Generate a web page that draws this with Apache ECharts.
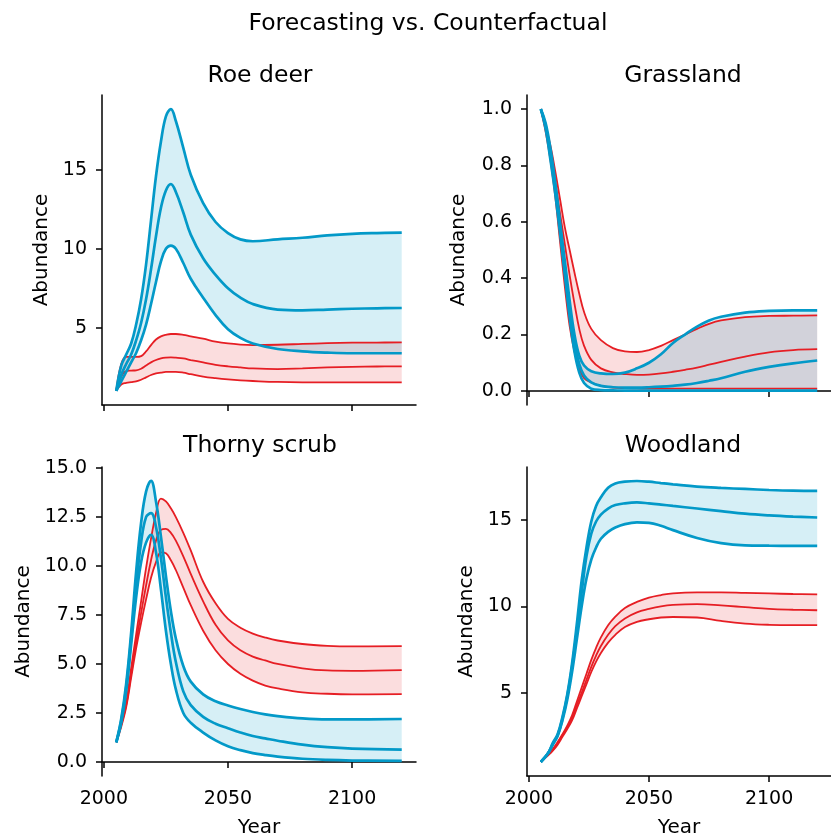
<!DOCTYPE html>
<html><head><meta charset="utf-8">
<script src="https://cdn.jsdelivr.net/npm/echarts@6/dist/echarts.min.js"></script>
<style>html,body{margin:0;padding:0;background:#fff}#c{width:831px;height:839px}</style>
</head><body><div id="c"></div><script>
// ---------- Data ----------
const panelTitles = ['Roe deer', 'Grassland', 'Thorny scrub', 'Woodland'];
const suptitle = 'Forecasting vs. Counterfactual';
const xTicks = [2000, 2050, 2100];

// Roe deer
const roeYears = [2005,2007,2009,2011,2013,2015,2017,2019,2021,2023,2025,2027,2029,2032,2035,2040,2045,2050,2055,2060,2070,2080,2090,2100,2110,2120];
const roeBlueHigh = [1.0,2.6,3.3,4.0,5.2,6.8,9.0,11.8,14.6,16.8,18.4,18.85,18.1,16.4,14.7,12.9,11.7,11.0,10.6,10.48,10.6,10.7,10.85,10.95,11.0,11.03];
const roeBlueMid  = [1.0,2.0,2.7,3.3,4.2,5.3,6.8,8.7,10.8,12.6,13.7,14.1,13.6,12.3,10.9,9.4,8.35,7.5,6.9,6.5,6.15,6.1,6.15,6.2,6.23,6.25];
const roeBlueLow  = [1.0,1.6,2.2,2.8,3.4,4.2,5.2,6.5,7.9,9.2,10.0,10.2,10.0,9.1,8.1,6.9,5.8,4.9,4.35,4.0,3.65,3.5,3.42,3.38,3.38,3.38];
const roeRedHigh  = [1.0,2.7,3.15,3.15,3.15,3.2,3.5,3.9,4.25,4.45,4.55,4.6,4.6,4.55,4.45,4.3,4.12,4.0,3.93,3.9,3.92,3.97,4.02,4.05,4.06,4.07];
const roeRedMid   = [1.0,1.9,2.25,2.28,2.3,2.4,2.6,2.8,2.95,3.05,3.1,3.12,3.1,3.05,2.95,2.8,2.65,2.55,2.48,2.42,2.38,2.42,2.48,2.52,2.54,2.55];
const roeRedLow   = [1.0,1.4,1.5,1.55,1.6,1.7,1.85,2.0,2.1,2.15,2.2,2.2,2.2,2.15,2.05,1.9,1.8,1.72,1.66,1.62,1.56,1.54,1.54,1.54,1.54,1.54];
const roeYTicks = [5, 10, 15];

// Grassland
const grassYears = [2005,2007,2009,2011,2013,2015,2017,2019,2021,2023,2026,2030,2035,2040,2045,2050,2055,2060,2065,2070,2075,2080,2090,2100,2110,2120];
const grassBlueHigh = [1.0,0.95,0.86,0.74,0.6,0.46,0.32,0.2,0.125,0.09,0.07,0.062,0.06,0.065,0.08,0.1,0.13,0.17,0.2,0.228,0.25,0.263,0.278,0.284,0.286,0.286];
const grassBlueMid  = [1.0,0.94,0.84,0.72,0.58,0.43,0.29,0.17,0.095,0.055,0.03,0.018,0.013,0.012,0.012,0.013,0.015,0.018,0.022,0.028,0.036,0.045,0.068,0.085,0.098,0.108];
const grassBlueLow  = [1.0,0.93,0.82,0.7,0.56,0.41,0.26,0.14,0.065,0.028,0.008,0.003,0.002,0.001,0.001,0.001,0.001,0.001,0.001,0.001,0.001,0.001,0.001,0.001,0.001,0.001];
const grassRedHigh  = [1.0,0.94,0.87,0.78,0.68,0.58,0.5,0.42,0.345,0.28,0.22,0.18,0.152,0.14,0.138,0.145,0.16,0.18,0.2,0.22,0.238,0.25,0.262,0.266,0.267,0.268];
const grassRedMid   = [1.0,0.93,0.85,0.74,0.63,0.52,0.41,0.31,0.22,0.16,0.11,0.08,0.066,0.06,0.057,0.058,0.062,0.068,0.075,0.083,0.093,0.103,0.122,0.137,0.145,0.148];
const grassRedLow   = [1.0,0.92,0.82,0.69,0.53,0.37,0.23,0.14,0.08,0.045,0.03,0.018,0.012,0.01,0.009,0.008,0.008,0.008,0.008,0.008,0.008,0.008,0.008,0.008,0.008,0.008];
const grassYTicks = [0, 0.2, 0.4, 0.6, 0.8, 1.0];

// Thorny scrub
const scrubYears = [2005,2007,2009,2011,2013,2015,2017,2019,2021,2023,2025,2027,2029,2032,2035,2040,2045,2050,2055,2060,2065,2070,2080,2090,2100,2120];
const scrubBlueHigh = [1.0,2.2,4.0,6.6,9.7,12.2,13.8,14.35,13.3,11.5,9.5,7.7,6.3,4.9,4.1,3.45,3.1,2.88,2.7,2.55,2.43,2.34,2.22,2.17,2.17,2.19];
const scrubBlueMid  = [1.0,2.1,3.8,6.3,9.0,11.2,12.5,12.7,12.0,10.4,8.4,6.6,5.1,3.6,2.9,2.3,1.95,1.72,1.5,1.32,1.2,1.08,0.88,0.75,0.68,0.63];
const scrubBlueLow  = [1.0,2.0,3.6,6.0,8.4,10.2,11.2,11.6,10.7,8.8,6.7,5.0,3.7,2.5,2.0,1.5,1.1,0.8,0.6,0.45,0.35,0.27,0.16,0.1,0.07,0.05];
const scrubRedHigh  = [1.0,2.0,3.0,4.8,6.5,8.2,9.9,11.4,12.7,13.45,13.3,12.95,12.5,11.7,10.8,9.2,8.1,7.3,6.85,6.55,6.35,6.2,6.02,5.93,5.9,5.91];
const scrubRedMid   = [1.0,1.9,2.9,4.5,6.1,7.6,9.0,10.3,11.3,11.85,11.9,11.7,11.3,10.5,9.6,8.2,7.0,6.2,5.7,5.38,5.18,5.0,4.78,4.67,4.65,4.69];
const scrubRedLow   = [1.0,1.8,2.8,4.3,5.8,7.1,8.3,9.4,10.2,10.7,10.65,10.3,9.8,8.9,8.0,6.7,5.7,5.0,4.5,4.15,3.9,3.75,3.55,3.48,3.45,3.46];
const scrubYTicks = [0, 2.5, 5, 7.5, 10, 12.5, 15];

// Woodland
const woodYears = [2005,2008,2010,2012,2014,2016,2018,2020,2022,2024,2026,2028,2030,2033,2036,2040,2045,2050,2055,2060,2070,2080,2090,2100,2110,2120];
const woodBlueHigh = [1.0,1.5,2.1,2.6,3.6,4.9,6.7,9.0,11.5,13.4,14.9,15.8,16.3,16.85,17.1,17.2,17.24,17.2,17.12,17.05,16.92,16.84,16.78,16.72,16.68,16.67];
const woodBlueMid  = [1.0,1.5,2.05,2.55,3.5,4.8,6.5,8.6,10.8,12.9,14.2,14.9,15.3,15.65,15.85,15.95,16.0,15.95,15.88,15.8,15.65,15.5,15.35,15.25,15.18,15.13];
const woodBlueLow  = [1.0,1.5,2.0,2.5,3.4,4.6,6.2,8.1,10.0,11.6,12.7,13.4,13.9,14.3,14.55,14.75,14.85,14.82,14.65,14.4,13.95,13.65,13.52,13.5,13.49,13.49];
const woodRedHigh  = [1.0,1.42,1.75,2.15,2.6,3.1,3.7,4.5,5.3,6.1,6.9,7.6,8.2,8.9,9.4,9.9,10.25,10.5,10.65,10.75,10.8,10.8,10.77,10.74,10.71,10.69];
const woodRedMid   = [1.0,1.4,1.7,2.1,2.55,3.0,3.55,4.3,5.0,5.75,6.5,7.15,7.7,8.35,8.85,9.3,9.65,9.85,10.0,10.08,10.12,10.05,9.95,9.85,9.8,9.77];
const woodRedLow   = [1.0,1.38,1.65,2.0,2.45,2.9,3.4,4.1,4.8,5.5,6.2,6.8,7.3,7.9,8.35,8.8,9.1,9.25,9.35,9.38,9.35,9.15,9.0,8.93,8.91,8.91];
const woodYTicks = [5, 10, 15];

// ---------- Layout / style ----------
const BLUE = '#0399c8';
const RED = '#e61e24';
const FONT = 'DejaVu Sans';
const SM = 0.4;

const panels = [
  {years: roeYears, bh: roeBlueHigh, bm: roeBlueMid, bl: roeBlueLow, rh: roeRedHigh, rm: roeRedMid, rl: roeRedLow,
   yTicks: roeYTicks, ymin: 0.1, ymax: 19.75, dec: 0, grid: {left: 102, top: 95, width: 314, height: 310}, xLabels: false, nameGap: 50, tx: 260, ty: 76},
  {years: grassYears, bh: grassBlueHigh, bm: grassBlueMid, bl: grassBlueLow, rh: grassRedHigh, rm: grassRedMid, rl: grassRedLow,
   yTicks: grassYTicks, ymin: -0.05, ymax: 1.05, dec: 1, grid: {left: 527, top: 95, width: 314, height: 310}, xLabels: false, nameGap: 58, tx: 683, ty: 76},
  {years: scrubYears, bh: scrubBlueHigh, bm: scrubBlueMid, bl: scrubBlueLow, rh: scrubRedHigh, rm: scrubRedMid, rl: scrubRedLow,
   yTicks: scrubYTicks, ymin: -0.72, ymax: 15.06, dec: 1, grid: {left: 102, top: 467, width: 314, height: 310}, xLabels: true, nameGap: 68, tx: 260, ty: 446},
  {years: woodYears, bh: woodBlueHigh, bm: woodBlueMid, bl: woodBlueLow, rh: woodRedHigh, rm: woodRedMid, rl: woodRedLow,
   yTicks: woodYTicks, ymin: 0.19, ymax: 18.05, dec: 0, grid: {left: 527, top: 467, width: 314, height: 310}, xLabels: true, nameGap: 50, tx: 683, ty: 446}
];

const pairs = (xs, ys) => xs.map((x, i) => [x, ys[i]]);

// Band between two curves: custom series, polygon built from axis coordinates
function bandSeries(i, years, lo, hi, color, opacity) {
  return {
    type: 'custom', xAxisIndex: i, yAxisIndex: i, silent: true,
    data: years.map((x, k) => [x, lo[k], hi[k]]),
    encode: {x: 0, y: [1, 2]},
    renderItem: function (params, api) {
      if (params.dataIndex !== 0) return null;
      const n = years.length;
      const up = [], dn = [];
      for (let k = 0; k < n; k++) {
        up.push(api.coord([years[k], hi[k]]));
        dn.push(api.coord([years[k], lo[k]]));
      }
      // duplicate corner points so smoothing does not bulge at ends
      const pts = [up[0]].concat(up).concat([up[n - 1]]).concat([dn[n - 1]]).concat(dn.slice().reverse()).concat([dn[0]]);
      return {type: 'polygon', shape: {points: pts, smooth: SM}, style: {fill: color, opacity: opacity}};
    }
  };
}

const grids = [], xAxes = [], yAxes = [], series = [], titles = [];
titles.push({text: suptitle, left: 428, top: 24, textAlign: 'center', textVerticalAlign: 'middle', padding: 0,
  textStyle: {fontFamily: FONT, fontSize: 23.5, fontWeight: 'normal', color: '#000'}});

const axisLineStyle = {color: '#000', width: 1.5};

panels.forEach((p, i) => {
  grids.push(p.grid);
  titles.push({text: panelTitles[i], left: p.tx, top: p.ty, textAlign: 'center', textVerticalAlign: 'middle', padding: 0,
    textStyle: {fontFamily: FONT, fontSize: 23.5, fontWeight: 'normal', color: '#000'}});
  xAxes.push({
    gridIndex: i, type: 'value', min: 1999.25, max: 2125.75,
    name: p.xLabels ? 'Year' : '', nameLocation: 'middle', nameGap: 42,
    nameTextStyle: {fontFamily: FONT, fontSize: 20, color: '#000'},
    axisLine: {show: true, lineStyle: axisLineStyle},
    axisTick: {show: true, length: 6, lineStyle: axisLineStyle, customValues: xTicks},
    axisLabel: {show: p.xLabels, customValues: xTicks, margin: 14, fontFamily: FONT, fontSize: 19, color: '#000',
      formatter: v => String(Math.round(v))},
    splitLine: {show: false}
  });
  yAxes.push({
    gridIndex: i, type: 'value', min: p.ymin, max: p.ymax,
    name: 'Abundance', nameLocation: 'middle', nameGap: p.nameGap,
    nameTextStyle: {fontFamily: FONT, fontSize: 20, color: '#000'},
    axisLine: {show: true, lineStyle: axisLineStyle},
    axisTick: {show: true, length: 6, lineStyle: axisLineStyle, customValues: p.yTicks},
    axisLabel: {customValues: p.yTicks, margin: 15, fontFamily: FONT, fontSize: 19, color: '#000',
      formatter: v => v.toFixed(p.dec)},
    splitLine: {show: false}
  });
  const common = {xAxisIndex: i, yAxisIndex: i, type: 'line', symbol: 'none', smooth: SM, silent: true};
  series.push(bandSeries(i, p.years, p.rl, p.rh, RED, 0.15));
  [p.rl, p.rm, p.rh].forEach(arr => series.push(Object.assign({}, common, {data: pairs(p.years, arr), lineStyle: {color: RED, width: 1.8}})));
  series.push(bandSeries(i, p.years, p.bl, p.bh, BLUE, 0.16));
  [p.bl, p.bm, p.bh].forEach(arr => series.push(Object.assign({}, common, {data: pairs(p.years, arr), lineStyle: {color: BLUE, width: 2.7}})));
});

const chart = echarts.init(document.getElementById('c'), null, {renderer: 'canvas'});
chart.setOption({
  animation: false,
  backgroundColor: '#fff',
  title: titles,
  grid: grids,
  xAxis: xAxes,
  yAxis: yAxes,
  series: series
});
</script></body></html>
